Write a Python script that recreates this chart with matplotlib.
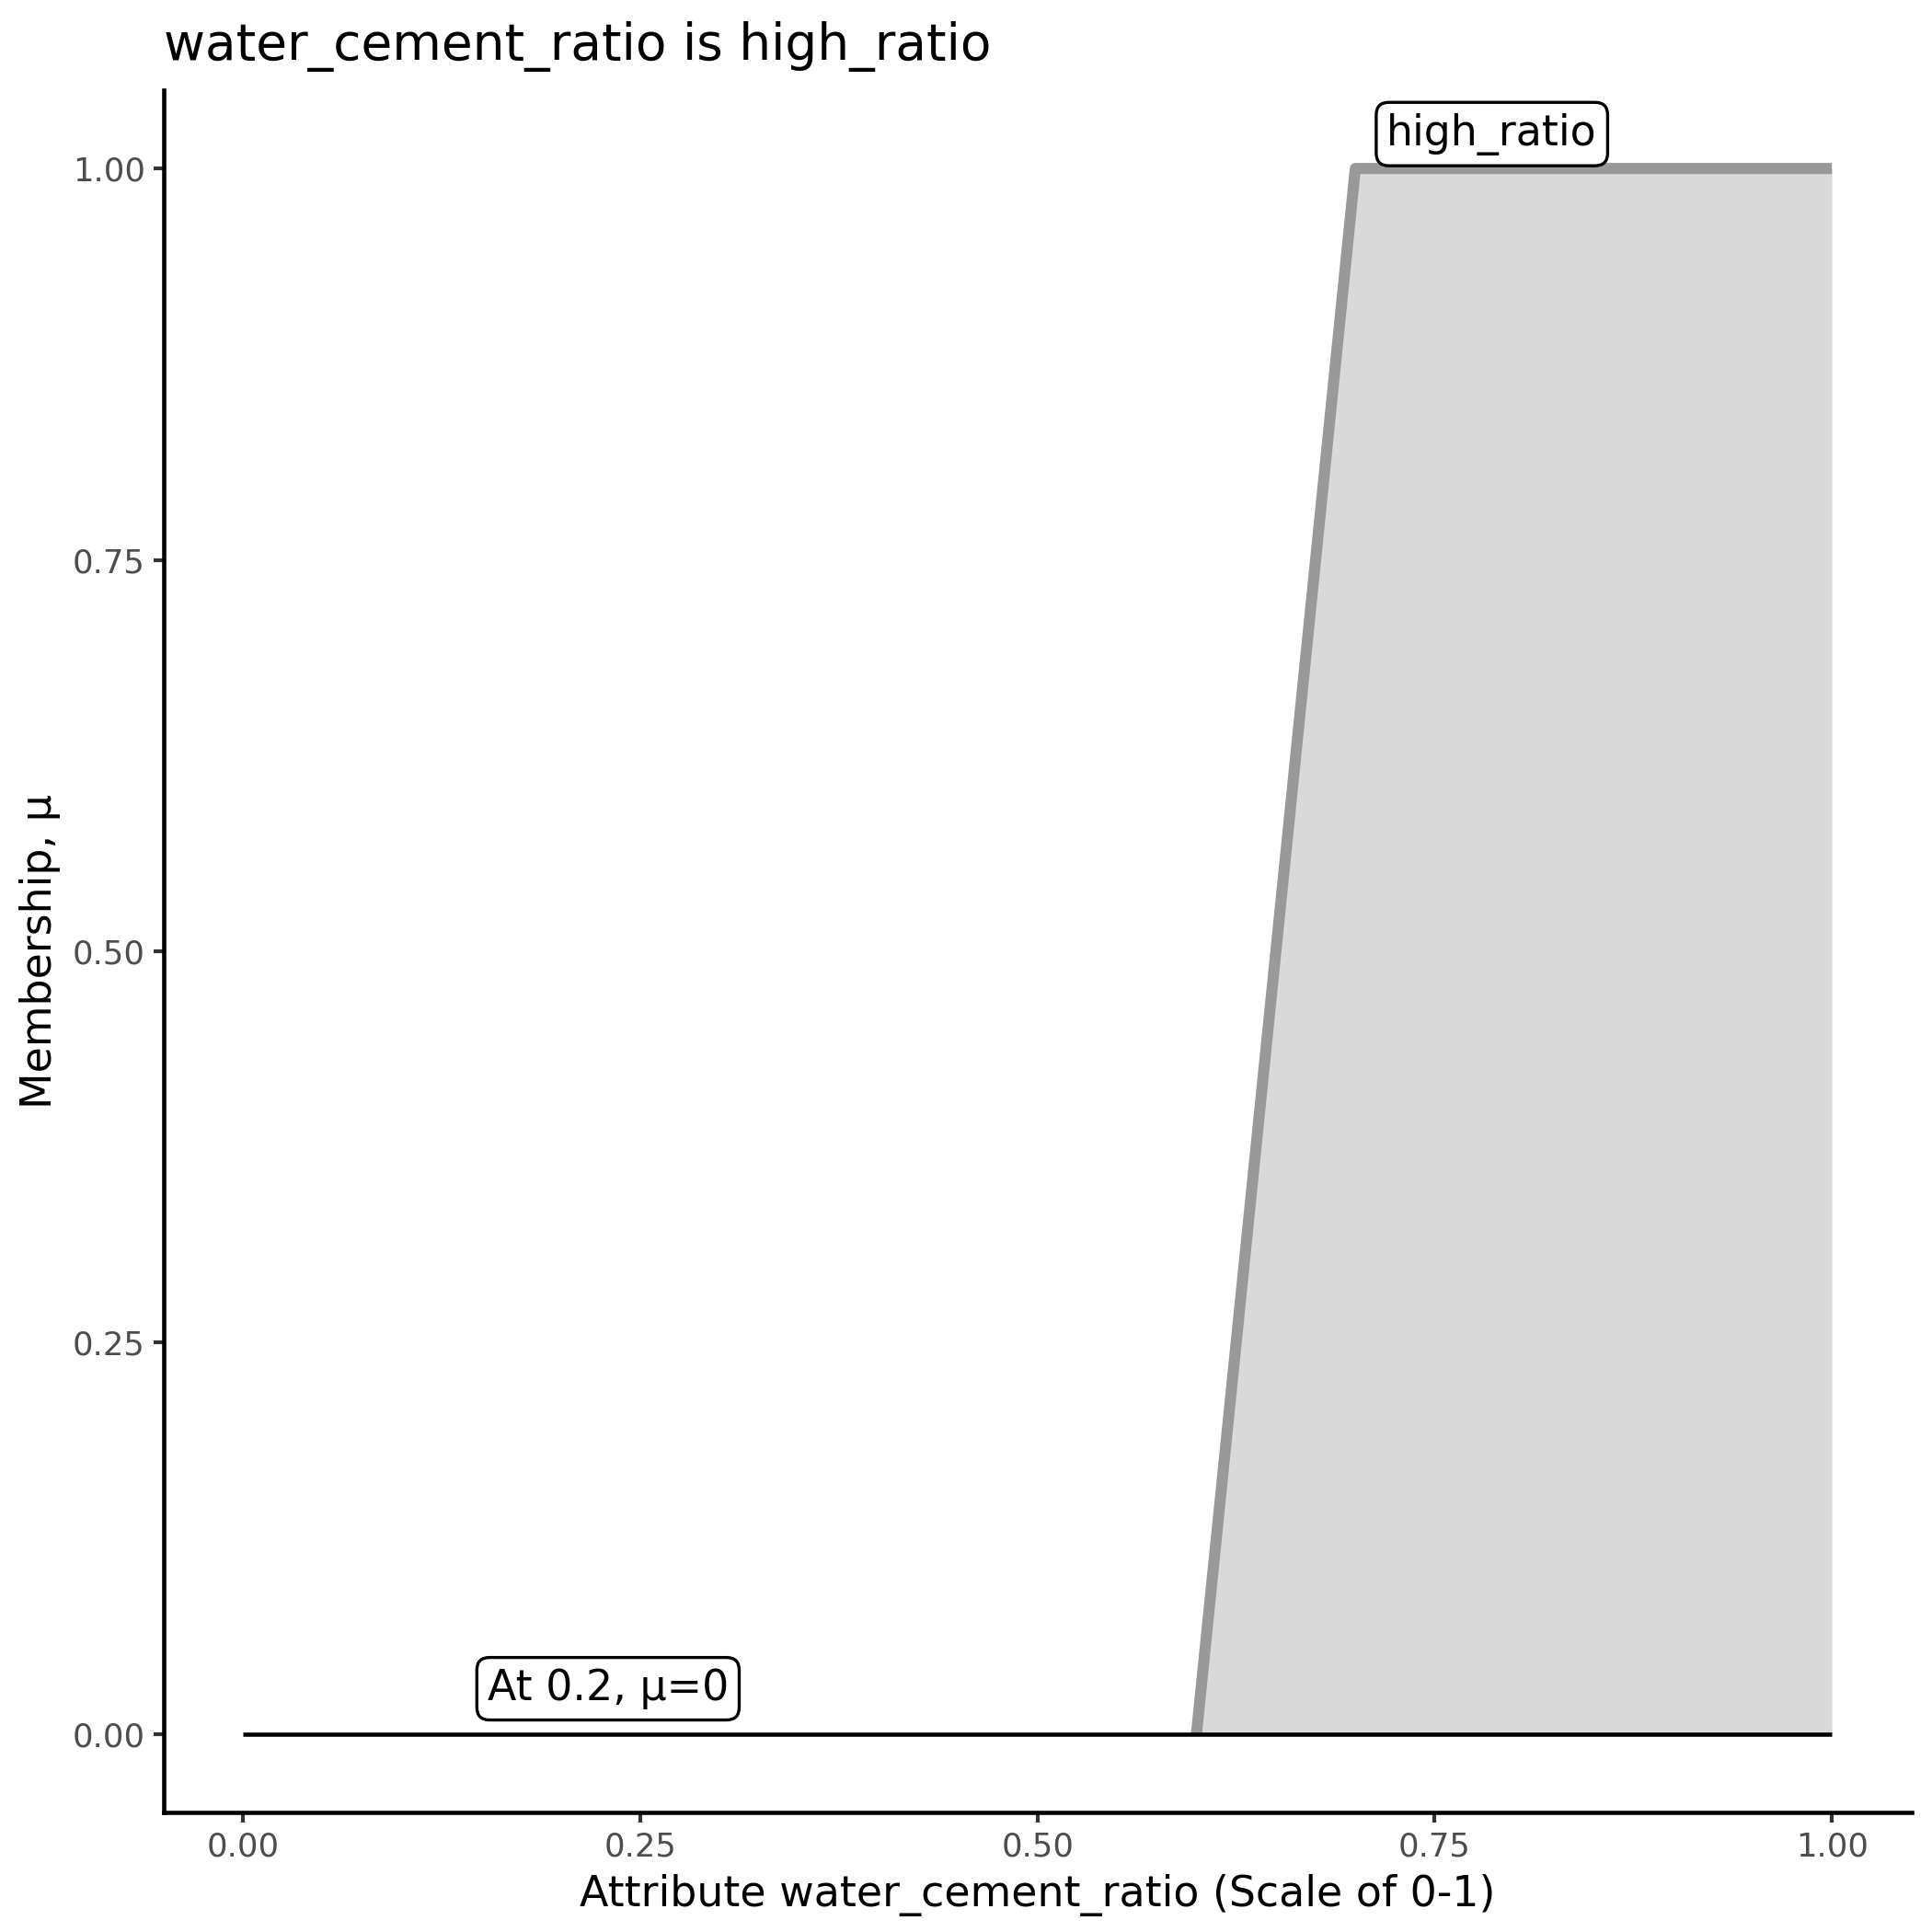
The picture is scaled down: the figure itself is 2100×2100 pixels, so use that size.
import matplotlib
matplotlib.use("Agg")
import matplotlib.pyplot as plt

# membership function (trapezoid) for high_ratio
mf_x = [0.6, 0.7, 1.0]
mf_y = [0.0, 1.0, 1.0]

# evaluated point line
base_x = [0.0, 1.0]
base_y = [0.0, 0.0]

x_ticks = [0.00, 0.25, 0.50, 0.75, 1.00]
y_ticks = [0.00, 0.25, 0.50, 0.75, 1.00]
tick_labels = ["0.00", "0.25", "0.50", "0.75", "1.00"]

set_label = "high_ratio"
point_label = "At 0.2, \u03bc=0"

plt.rcParams['font.family'] = ['DejaVu Sans']

fig = plt.figure(figsize=(7, 7), dpi=300)
ax = fig.add_axes([0.0848, 0.0619, 0.9045, 0.8914])

# shaded area under the membership curve
ax.fill_between(mf_x, mf_y, 0, color='#D9D9D9', linewidth=0, zorder=1)
ax.plot(mf_x, mf_y, color='#999999', linewidth=2.9, solid_joinstyle='round',
        solid_capstyle='butt', zorder=2)
ax.plot(base_x, base_y, color='black', linewidth=1.1, solid_capstyle='butt', zorder=3)

box = dict(boxstyle='round,pad=0.25,rounding_size=0.3', facecolor='white',
           edgecolor='black', linewidth=0.8)
ax.text(0.786, 1.022, set_label, fontsize=11, ha='center', va='center', bbox=box, zorder=4)
ax.text(0.2296, 0.029, point_label, fontsize=11, ha='center', va='center', bbox=box, zorder=4)

ax.set_xlim(-0.05, 1.05)
ax.set_ylim(-0.05, 1.05)
ax.set_xticks(x_ticks)
ax.set_xticklabels(tick_labels)
ax.set_yticks(y_ticks)
ax.set_yticklabels(tick_labels)

for s in ['top', 'right']:
    ax.spines[s].set_visible(False)
for s in ['left', 'bottom']:
    ax.spines[s].set_linewidth(1.1)
    ax.spines[s].set_color('black')

ax.tick_params(axis='both', length=2.7, width=1.0, color='#333333',
               labelsize=8.5, labelcolor='#4D4D4D', pad=2.2)

ax.set_xlabel("Attribute water_cement_ratio (Scale of 0-1)", fontsize=11, labelpad=3)
ax.set_ylabel("Membership, \u03bc", fontsize=11, labelpad=3)
ax.set_title("water_cement_ratio is high_ratio", fontsize=13.2, loc='left', pad=8)

fig.savefig("out.png", dpi=300, facecolor='white')
